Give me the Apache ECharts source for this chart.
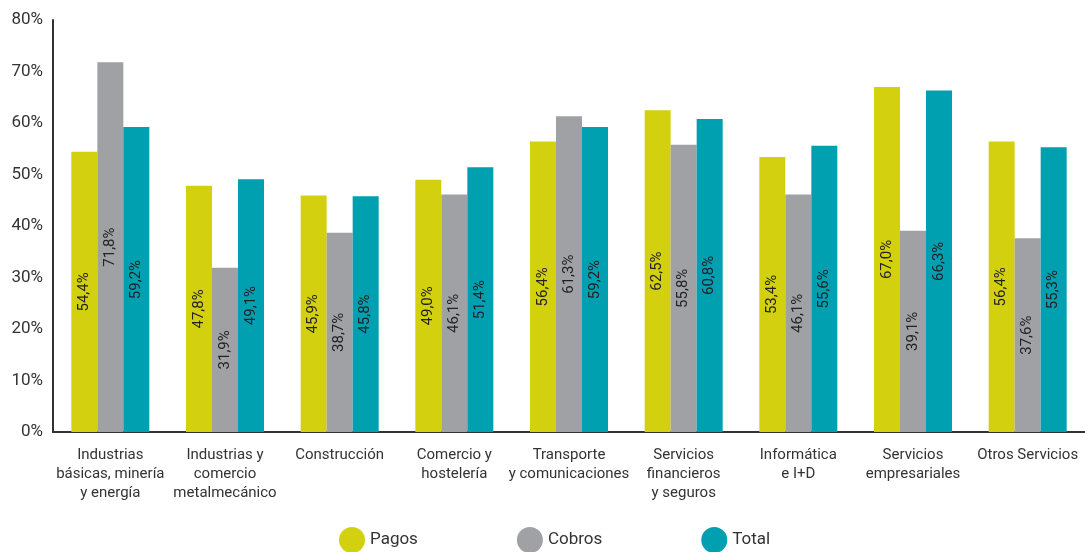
<!DOCTYPE html>
<html>
<head>
<meta charset="utf-8">
<script src="https://cdn.jsdelivr.net/npm/echarts@6/dist/echarts.min.js"></script>
<style>
  html, body { margin: 0; padding: 0; background: #fff; }
  #main { width: 1085px; height: 552px; }
</style>
</head>
<body>
<div id="main"></div>
<script>
var categories = [
    'Industrias\nbásicas, minería\ny energía',
    'Industrias y\ncomercio\nmetalmecánico',
    'Construcción',
    'Comercio y\nhostelería',
    'Transporte\ny comunicaciones',
    'Servicios\nfinancieros\ny seguros',
    'Informática\ne I+D',
    'Servicios\nempresariales',
    'Otros Servicios'
];
var pagos  = [54.4, 47.8, 45.9, 49.0, 56.4, 62.5, 53.4, 67.0, 56.4];
var cobros = [71.8, 31.9, 38.7, 46.1, 61.3, 55.8, 46.1, 39.1, 37.6];
var total  = [59.2, 49.1, 45.8, 51.4, 59.2, 60.8, 55.6, 66.3, 55.3];

var font = "'Roboto', sans-serif";

function barSeries(name, data, color) {
    return {
        name: name,
        type: 'bar',
        data: data,
        barWidth: 26,
        barGap: '0%',
        itemStyle: { color: color },
        label: {
            show: true,
            position: 'inside',
            rotate: 90,
            color: '#222',
            fontSize: 15,
            fontFamily: font,
            formatter: function (p) { return p.value.toFixed(1).replace('.', ',') + '%'; }
        }
    };
}

var myChart = echarts.init(document.getElementById('main'));
var option = {
    animation: false,
    textStyle: { fontFamily: font },
    grid: { left: 53, right: 0, top: 20, bottom: 120 },
    legend: {
        bottom: -6,
        left: 334,
        itemGap: 99,
        icon: 'circle',
        itemWidth: 26,
        itemHeight: 26,
        textStyle: { fontSize: 17, color: '#333', fontFamily: font },
        data: ['Pagos', 'Cobros', 'Total']
    },
    xAxis: {
        type: 'category',
        data: categories,
        axisLine: { lineStyle: { color: '#333', width: 2 } },
        axisTick: { show: false },
        axisLabel: { color: '#333', fontSize: 15, lineHeight: 19, margin: 14, interval: 0 }
    },
    yAxis: {
        type: 'value',
        min: 0,
        max: 80,
        interval: 10,
        splitLine: { show: false },
        axisLine: { show: true, lineStyle: { color: '#333', width: 2 } },
        axisLabel: { color: '#333', fontSize: 17, margin: 10, formatter: '{value}%' }
    },
    series: [
        barSeries('Pagos', pagos, '#d3d10f'),
        barSeries('Cobros', cobros, '#a0a1a5'),
        barSeries('Total', total, '#00a0b0')
    ]
};
myChart.setOption(option);
</script>
</body>
</html>
